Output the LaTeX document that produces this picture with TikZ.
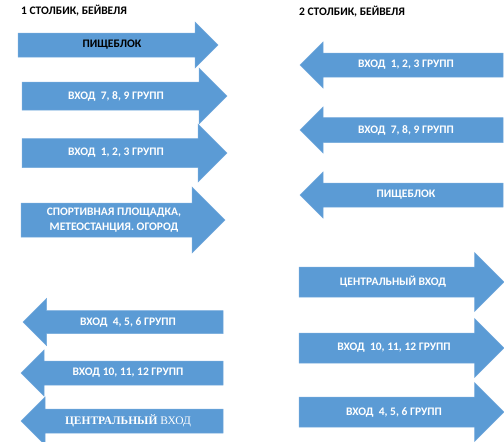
\documentclass[tikz,border=0pt]{standalone}
\usepackage{fontspec}
\setsansfont{Carlito}
\newfontfamily\timesfont{Liberation Serif}
\definecolor{blockblue}{HTML}{5B9BD5}
\definecolor{blockedge}{HTML}{74AADD}

% #1 node options, #2 name, #3 tail x, #4 tip x, #5 mid y, #6 shaft half, #7 head half, #8 text x, #9 text
\newcommand{\rblock}[9][]{%
  \filldraw[block] (#3,#5-#6) -- (#4-#7,#5-#6) -- (#4-#7,#5-#7) -- (#4,#5)
    -- (#4-#7,#5+#7) -- (#4-#7,#5+#6) -- (#3,#5+#6) -- cycle;
  \node[#1] (#2) at (#8,#5) {#9};}
\newcommand{\lblock}[9][]{%
  \filldraw[block] (#3,#5-#6) -- (#4+#7,#5-#6) -- (#4+#7,#5-#7) -- (#4,#5)
    -- (#4+#7,#5+#7) -- (#4+#7,#5+#6) -- (#3,#5+#6) -- cycle;
  \node[#1] (#2) at (#8,#5) {#9};}

\begin{document}
\begin{tikzpicture}
[x=1pt,y=-1pt,%
  block/.style={fill=blockblue,draw=blockedge,line width=0.5pt},%
  every node/.style={font=\sffamily\bfseries\fontsize{11.5}{15}\selectfont,text=white,inner sep=0pt,align=center},%
  title/.style={text=black,anchor=west}]
\useasboundingbox (0,0) rectangle (504,442);
\node[title] (t1) at (21,11) {1 СТОЛБИК, БЕЙВЕЛЯ};
\node[title] (t2) at (299,12) {2 СТОЛБИК, БЕЙВЕЛЯ};
\rblock[text=black]{lpishch}{18}{218}{45}{12}{23}{112}{ПИЩЕБЛОК}
\rblock{lvh789}{22}{227}{96}{14}{28}{116}{ВХОД\ \ 7, 8, 9 ГРУПП}
\rblock{lvh123}{22}{227}{153}{14.5}{29}{116}{ВХОД\ \ 1, 2, 3 ГРУПП}
\rblock{lsport}{21}{225}{220}{17}{33}{114}{СПОРТИВНАЯ ПЛОЩАДКА,\\МЕТЕОСТАНЦИЯ. ОГОРОД}
\lblock{lvh456}{223}{23}{322}{11.5}{23.5}{128}{ВХОД\ \ 4, 5, 6 ГРУПП}
\lblock{lvh1012}{223}{21}{373}{12}{23}{128}{ВХОД 10, 11, 12 ГРУПП}
\lblock[font=\timesfont\fontsize{11.5}{14}\selectfont]{lcentr}{223}{21}{421}{12}{24}{128}{\textbf{ЦЕНТРАЛЬНЫЙ} ВХОД}
\lblock{rvh123}{503}{300}{65}{12}{23}{406}{ВХОД\ \ 1, 2, 3 ГРУПП}
\lblock{rvh789}{503}{300}{130}{12.5}{23}{406}{ВХОД\ \ 7, 8, 9 ГРУПП}
\lblock{rpishch}{503}{300}{195}{12}{23}{406}{ПИЩЕБЛОК}
\rblock{rcentr}{299}{504}{282}{15}{29.5}{393}{ЦЕНТРАЛЬНЫЙ ВХОД}
\rblock{rvh1012}{299}{504}{348}{15}{29.5}{394}{ВХОД\ \ 10, 11, 12 ГРУПП}
\rblock{rvh456}{299}{504}{412}{15}{29.5}{394}{ВХОД\ \ 4, 5, 6 ГРУПП}
\end{tikzpicture}
\end{document}
